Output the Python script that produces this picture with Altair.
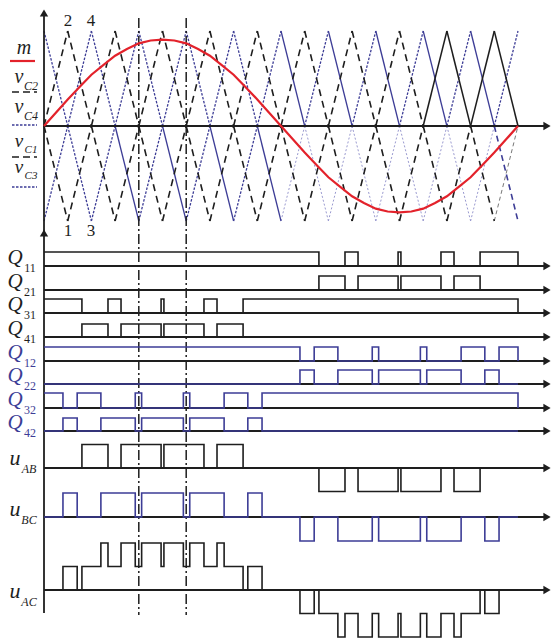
import altair as alt
import pandas as pd

# ---------------- data ----------------
# time unit: a quarter of a carrier period; one fundamental period = 20 units
carrier_t = [0, 1, 2, 3, 4, 5, 6, 7, 8, 9, 10, 11, 12, 13, 14, 15, 16, 17, 18, 19, 20]
vC3 = [1, 0, -1, 0, 1, 0, -1, 0, 1, 0, -1, 0, 1, 0, -1, 0, 1, 0, -1, 0, 1]
vC4 = [-1, 0, 1, 0, -1, 0, 1, 0, -1, 0, 1, 0, -1, 0, 1, 0, -1, 0, 1, 0, -1]
vC2 = [0, 1, 0, -1, 0, 1, 0, -1, 0, 1, 0, -1, 0, 1, 0, -1, 0, 1, 0, -1, 0]
vC1 = [0, -1, 0, 1, 0, -1, 0, 1, 0, -1, 0, 1, 0, -1, 0, 1, 0, -1, 0, 1, 0]

m_t = [0, 0.5, 1, 1.5, 2, 2.5, 3, 3.5, 4, 4.5, 5, 5.5, 6, 6.5, 7, 7.5, 8, 8.5, 9, 9.5,
       10, 10.5, 11, 11.5, 12, 12.5, 13, 13.5, 14, 14.5, 15, 15.5, 16, 16.5, 17, 17.5,
       18, 18.5, 19, 19.5, 20]
m_val = [0, 0.14, 0.28, 0.41, 0.54, 0.64, 0.74, 0.81, 0.87, 0.90, 0.91, 0.90, 0.87, 0.81,
         0.74, 0.64, 0.54, 0.41, 0.28, 0.14, 0, -0.14, -0.28, -0.41, -0.54, -0.64, -0.74,
         -0.81, -0.87, -0.90, -0.91, -0.90, -0.87, -0.81, -0.74, -0.64, -0.54, -0.41,
         -0.28, -0.14, 0]

Q11_on = [[0, 11.6], [12.7, 13.25], [14.94, 15.06], [16.75, 17.3], [18.4, 20]]
Q21_on = [[11.6, 12.7], [13.25, 14.94], [15.06, 16.75], [17.3, 18.4]]
Q31_on = [[0, 1.6], [2.7, 3.25], [4.94, 5.06], [6.75, 7.3], [8.4, 20]]
Q41_on = [[1.6, 2.7], [3.25, 4.94], [5.06, 6.75], [7.3, 8.4]]
Q12_on = [[0, 10.8], [11.4, 12.4], [13.85, 14.12], [15.88, 16.15], [17.6, 18.6], [19.2, 20]]
Q22_on = [[10.8, 11.4], [12.4, 13.85], [14.12, 15.88], [16.15, 17.6], [18.6, 19.2]]
Q32_on = [[0, 0.8], [1.4, 2.4], [3.85, 4.12], [5.88, 6.15], [7.6, 8.6], [9.2, 20]]
Q42_on = [[0.8, 1.4], [2.4, 3.85], [4.12, 5.88], [6.15, 7.6], [8.6, 9.2]]

uAB_pos = [[1.6, 2.7], [3.25, 4.94], [5.06, 6.75], [7.3, 8.4]]
uAB_neg = [[11.6, 12.7], [13.25, 14.94], [15.06, 16.75], [17.3, 18.4]]
uBC_pos = [[0.8, 1.4], [2.4, 3.85], [4.12, 5.88], [6.15, 7.6], [8.6, 9.2]]
uBC_neg = [[10.8, 11.4], [12.4, 13.85], [14.12, 15.88], [16.15, 17.6], [18.6, 19.2]]

cursor_t = [4, 6]
T_END = 20

# ---------------- layout / style ----------------
W, H = 553, 639
X0, PXT = 44, 23.7
ZERO_Y, CAR_AMP = 126, 95
BLUE = "#3d3d96"
BLACK = "#1e1e1e"
RED = "#e3222b"
FONT = "Liberation Serif"


def tx(px):
    return (px - X0) / PXT


xscale = alt.Scale(domain=[tx(0), tx(W)], nice=False, zero=False)
yscale = alt.Scale(domain=[0, H], reverse=True, nice=False, zero=False)

records = []
seg_id = [0]


def add_poly(points, style):
    seg_id[0] += 1
    for k, (t, y) in enumerate(points):
        records.append(dict(t=t, y=y, seg=seg_id[0], ord=k, sty=style))


# carriers
def carrier_style(kind, i, half, dec):
    if kind == "blue":
        if half == "up":
            if i < 10:
                return "blue_dot"
            return "blue_solid" if dec else "blue_dot"
        if i < 3:
            return "blue_dot"
        if i < 10:
            return "blue_solid" if dec else "blue_dot"
        if i == 19:
            return "blue_dash"
        return "blue_faint"
    if half == "up" and i >= 16:
        return "black_solid"
    if half == "low" and i == 19:
        return "gray_dash"
    return "black_dash"


for kind, vals in [("black", vC2), ("black", vC1), ("blue", vC4), ("blue", vC3)]:
    for i in range(len(carrier_t) - 1):
        v0, v1 = vals[i], vals[i + 1]
        half = "up" if max(v0, v1) > 0 else "low"
        sty = carrier_style(kind, i, half, v1 < v0)
        add_poly([(carrier_t[i], ZERO_Y - CAR_AMP * v0),
                  (carrier_t[i + 1], ZERO_Y - CAR_AMP * v1)], sty)

# modulating wave
add_poly([(t, ZERO_Y - CAR_AMP * v) for t, v in zip(m_t, m_val)], "red")


# step waveforms
def step_points(intervals):
    bps = sorted(set([0, T_END] + [a for a, b, l in intervals] + [b for a, b, l in intervals]))

    def level(t):
        return sum(l for a, b, l in intervals if a <= t < b)

    prev = level(0)
    pts = [(0, prev)]
    for b in bps[1:]:
        nxt = level(b) if b < T_END else 0
        pts.append((b, prev))
        if nxt != prev:
            pts.append((b, nxt))
        prev = nxt
    return pts


def lv(lst, l):
    return [(a, b, l) for a, b in lst]


rows = [
    ("Q11", lv(Q11_on, 1), 266, 14, "sig_black"),
    ("Q21", lv(Q21_on, 1), 290, 14, "sig_black"),
    ("Q31", lv(Q31_on, 1), 313, 14, "sig_black"),
    ("Q41", lv(Q41_on, 1), 337, 13, "sig_black"),
    ("Q12", lv(Q12_on, 1), 361, 14, "sig_blue"),
    ("Q22", lv(Q22_on, 1), 384, 14, "sig_blue"),
    ("Q32", lv(Q32_on, 1), 408, 15, "sig_blue"),
    ("Q42", lv(Q42_on, 1), 431, 13, "sig_blue"),
    ("uAB", lv(uAB_pos, 1) + lv(uAB_neg, -1), 468, 23.5, "sig_black"),
    ("uBC", lv(uBC_pos, 1) + lv(uBC_neg, -1), 517, 24, "sig_blue"),
    ("uAC", lv(uAB_pos, 1) + lv(uAB_neg, -1) + lv(uBC_pos, 1) + lv(uBC_neg, -1), 590, 23.5, "sig_black"),
]

AX_END = tx(544)
for name, ivs, base, amp, sty in rows:
    add_poly([(0, base), (AX_END, base)], "axis")
    add_poly([(t, base - amp * l) for t, l in step_points(ivs)], sty)

# axes of the carrier panel
add_poly([(0, ZERO_Y), (AX_END, ZERO_Y)], "axis")
add_poly([(0, 14), (0, 613)], "axis")

# cursor lines
for c in cursor_t:
    add_poly([(c, 18), (c, 615)], "cursor")

# legend keys
add_poly([(tx(10), 61), (tx(35), 61)], "red")
add_poly([(tx(12), 92), (tx(37), 92)], "black_dash_key")
add_poly([(tx(12), 125), (tx(37), 125)], "blue_dot")
add_poly([(tx(12), 157), (tx(37), 157)], "black_dash_key")
add_poly([(tx(12), 187), (tx(37), 187)], "blue_dot")

lines = pd.DataFrame(records)

styles = {
    "blue_faint": dict(color="#9a9ad0", strokeWidth=1.0, strokeDash=[2, 2]),
    "gray_dash": dict(color="#777777", strokeWidth=1.0, strokeDash=[4, 3]),
    "blue_dot": dict(color=BLUE, strokeWidth=1.3, strokeDash=[2.5, 1.5]),
    "blue_solid": dict(color=BLUE, strokeWidth=1.3),
    "blue_dash": dict(color=BLUE, strokeWidth=1.6, strokeDash=[6, 4]),
    "black_dash": dict(color=BLACK, strokeWidth=1.6, strokeDash=[7, 5]),
    "black_dash_key": dict(color=BLACK, strokeWidth=1.6, strokeDash=[7, 4]),
    "black_solid": dict(color=BLACK, strokeWidth=1.5),
    "axis": dict(color=BLACK, strokeWidth=1.8),
    "cursor": dict(color=BLACK, strokeWidth=1.5, strokeDash=[10, 3, 2, 3]),
    "red": dict(color=RED, strokeWidth=2.2),
    "sig_black": dict(color=BLACK, strokeWidth=1.6),
    "sig_blue": dict(color=BLUE, strokeWidth=1.6),
}

layers = []
for sty, props in styles.items():
    sub = lines[lines.sty == sty]
    if sub.empty:
        continue
    layers.append(
        alt.Chart(sub).mark_line(**props, strokeCap="butt").encode(
            x=alt.X("t:Q", scale=xscale, axis=None),
            y=alt.Y("y:Q", scale=yscale, axis=None),
            detail="seg:N",
            order="ord:Q",
        )
    )

# arrow heads
right_heads = pd.DataFrame({"t": [tx(547)] * (len(rows) + 1),
                            "y": [r[2] for r in rows] + [ZERO_Y]})
up_heads = pd.DataFrame({"t": [0, 0], "y": [13, 233]})
layers.append(alt.Chart(right_heads).mark_point(shape="triangle-right", filled=True, size=70,
                                                color=BLACK, opacity=1).encode(
    x=alt.X("t:Q", scale=xscale, axis=None), y=alt.Y("y:Q", scale=yscale, axis=None)))
layers.append(alt.Chart(up_heads).mark_point(shape="triangle-up", filled=True, size=70,
                                             color=BLACK, opacity=1).encode(
    x=alt.X("t:Q", scale=xscale, axis=None), y=alt.Y("y:Q", scale=yscale, axis=None)))

# text labels (position in pixels, converted to the chart's units)
labels = [
    ("m", 24, 48, "bigi", BLACK, 20),
    ("v", 19, 77, "bigi", BLACK, 20), ("C2", 31, 86, "subi", BLACK, 12),
    ("v", 19, 107, "bigi", BLACK, 20), ("C4", 31, 116, "subi", BLACK, 12),
    ("v", 19, 141, "bigi", BLACK, 19), ("C1", 31, 150, "subi", BLACK, 11),
    ("v", 19, 167, "bigi", BLACK, 19), ("C3", 31, 176, "subi", BLACK, 11),
    ("2", 68, 21, "num", BLACK, 17), ("4", 91, 21, "num", BLACK, 17),
    ("1", 68, 231, "num", BLACK, 17), ("3", 91, 231, "num", BLACK, 17),
]
for name, ivs, base, amp, sty in rows:
    col = BLUE if name in ("Q12", "Q22", "Q32", "Q42") else BLACK
    if name.startswith("Q"):
        labels.append(("Q", 15, base - 8, "bigi", col, 21))
        labels.append((name[1:], 30, base + 2, "sub", col, 12))
    else:
        off = {"uAB": -10, "uBC": -8, "uAC": 1}[name]
        labels.append(("u", 15, base + off, "bigi", BLACK, 22))
        labels.append((name[1:], 29, base + off + 11, "subi", BLACK, 12))

lab = pd.DataFrame(labels, columns=["txt", "px", "py", "kind", "col", "fs"])
lab["t"] = lab["px"].apply(tx)
for (kind, col, fs), sub in lab.groupby(["kind", "col", "fs"]):
    italic = kind in ("bigi", "subi")
    layers.append(
        alt.Chart(sub).mark_text(font=FONT, fontSize=int(fs), color=col,
                                 fontStyle="italic" if italic else "normal",
                                 align="center", baseline="middle").encode(
            x=alt.X("t:Q", scale=xscale, axis=None),
            y=alt.Y("py:Q", scale=yscale, axis=None),
            text="txt:N",
        )
    )

chart = alt.layer(*layers).properties(
    width=W, height=H, padding=0, autosize=alt.AutoSizeParams(type="none"),
    background="white",
).configure_view(stroke=None)

chart.save("out.html", embed_options={"renderer": "svg", "actions": False})
